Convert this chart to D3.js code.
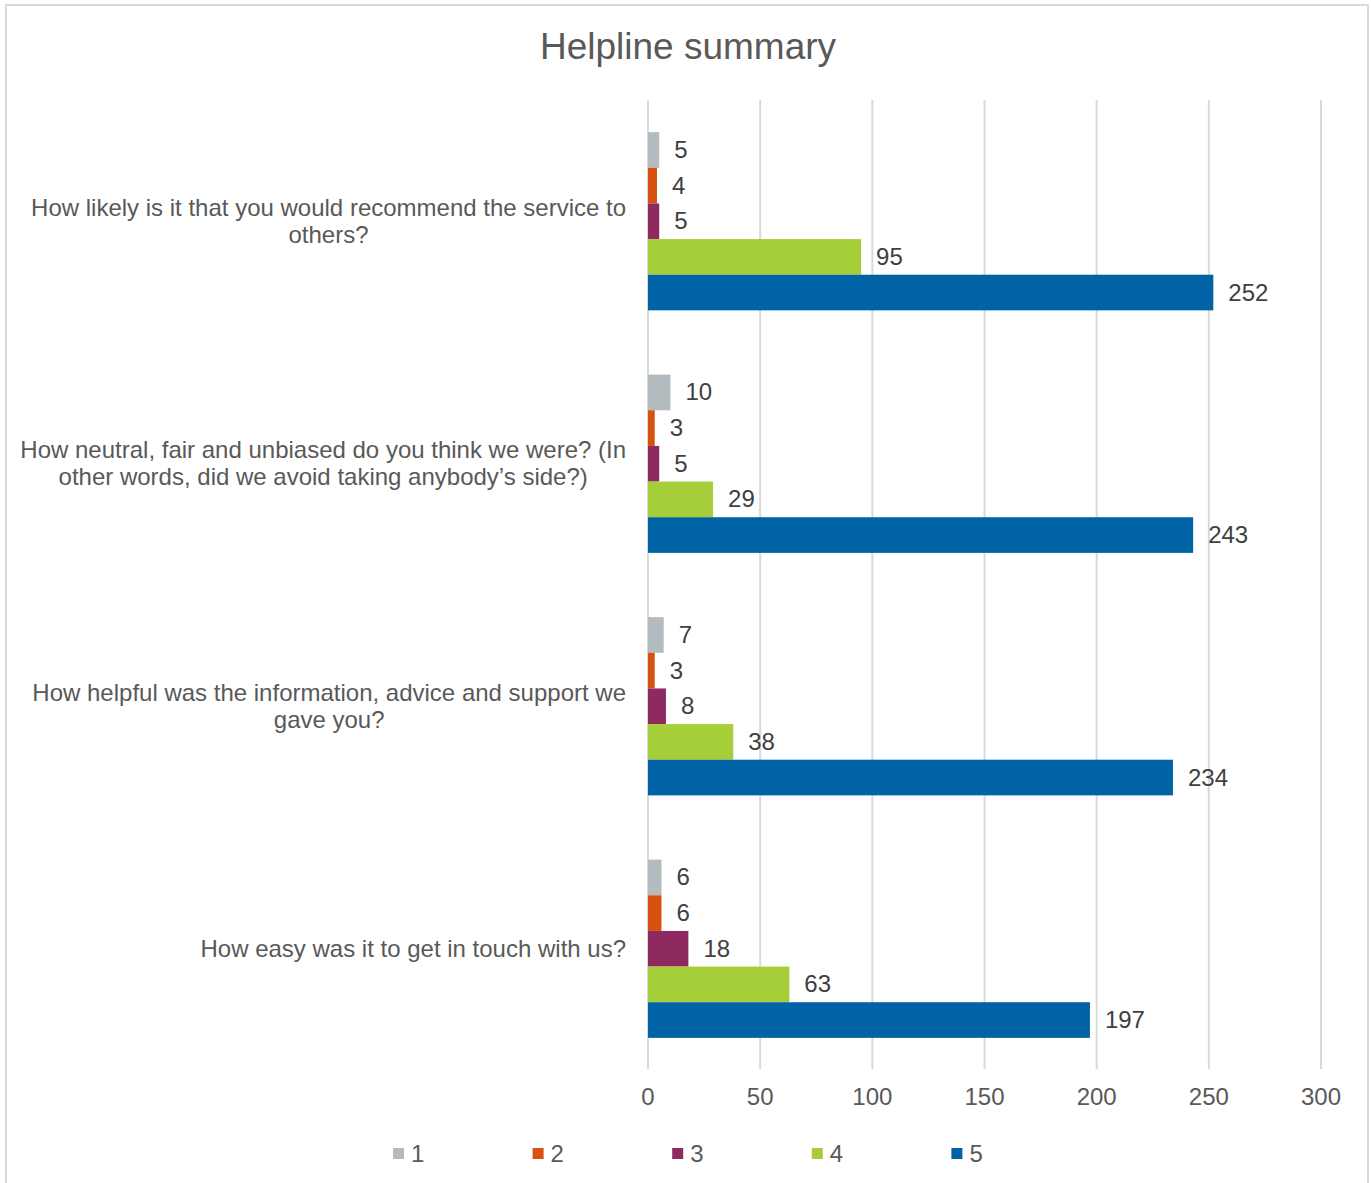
<!DOCTYPE html>
<html><head><meta charset="utf-8">
<script src="https://cdn.jsdelivr.net/npm/d3@7"></script>
<style>body{margin:0;background:#fff;} svg{display:block;font-family:"Liberation Sans",Arial,sans-serif;}</style>
</head><body>
<script>
const categories = [
  ["How likely is it that you would recommend the service to", "others?"],
  ["How neutral, fair and unbiased do you think we were? (In", "other words, did we avoid taking anybody\u2019s side?)"],
  ["How helpful was the information, advice and support we", "gave you?"],
  ["How easy was it to get in touch with us?"]
];
const seriesNames = ["1","2","3","4","5"];
const series1 = [5, 10, 7, 6];
const series2 = [4, 3, 3, 6];
const series3 = [5, 5, 8, 18];
const series4 = [95, 29, 38, 63];
const series5 = [252, 243, 234, 197];
const seriesValues = [series1, series2, series3, series4, series5];
const colors = ["#b4bbbf", "#d5520f", "#8f2a60", "#a6ce39", "#0063a6"];
const xTicks = [0, 50, 100, 150, 200, 250, 300];
const title = "Helpline summary";

const W = 1371, H = 1183;
const svg = d3.select("body").append("svg").attr("width", W).attr("height", H);
svg.append("rect").attr("x", 6).attr("y", 5).attr("width", 1362).attr("height", 1190)
  .attr("fill", "#fff").attr("stroke", "#d9d9d9").attr("stroke-width", 2);

svg.append("text").attr("x", 688).attr("y", 59).attr("text-anchor", "middle")
  .attr("font-size", 37).attr("fill", "#595959").text(title);

const x = d3.scaleLinear().domain([0, 300]).range([648, 1321]);
const y0 = d3.scaleBand().domain(d3.range(categories.length)).range([100, 1070]).paddingInner(0.265).paddingOuter(0.1325);
const y1 = d3.scaleBand().domain(d3.range(seriesNames.length)).range([0, y0.bandwidth()]);

// gridlines
svg.append("g").selectAll("line").data(xTicks).join("line")
  .attr("x1", d => x(d)).attr("x2", d => x(d)).attr("y1", 100).attr("y2", 1069)
  .attr("stroke", "#d9d9d9").attr("stroke-width", 2);

// tick labels
svg.append("g").selectAll("text").data(xTicks).join("text")
  .attr("x", d => x(d)).attr("y", 1105).attr("text-anchor", "middle")
  .attr("font-size", 24).attr("fill", "#595959").text(d => d);

// bars
categories.forEach((c, i) => {
  const g = svg.append("g").attr("transform", `translate(0,${y0(i)})`);
  seriesValues.forEach((vals, s) => {
    const v = vals[i];
    g.append("rect").attr("x", x(0)).attr("y", y1(s)).attr("width", x(v) - x(0)).attr("height", y1.bandwidth())
      .attr("fill", colors[s]);
    g.append("text").attr("x", x(v) + 15).attr("y", y1(s) + y1.bandwidth() / 2 + 8)
      .attr("font-size", 24).attr("fill", "#404040").text(v);
  });
  // category label
  const cy = y0(i) + y0.bandwidth() / 2;
  const lineH = 27;
  const n = c.length;
  const t = svg.append("text").attr("font-size", 24).attr("fill", "#595959").attr("text-anchor", "middle");
  c.forEach((line, k) => {
    t.append("tspan").attr("x", 0).attr("y", cy + 8 + (k - (n - 1) / 2) * lineH).text(line);
  });
  const bb = t.node().getBBox();
  t.attr("transform", `translate(${626 - bb.width / 2},0)`);
});

// legend
const lg = svg.append("g");
seriesNames.forEach((nm, s) => {
  const lx = 393 + s * 139.6;
  lg.append("rect").attr("x", lx).attr("y", 1148).attr("width", 11).attr("height", 11).attr("fill", colors[s]);
  lg.append("text").attr("x", lx + 18).attr("y", 1162).attr("font-size", 24).attr("fill", "#595959").text(nm);
});
</script>
</body></html>
